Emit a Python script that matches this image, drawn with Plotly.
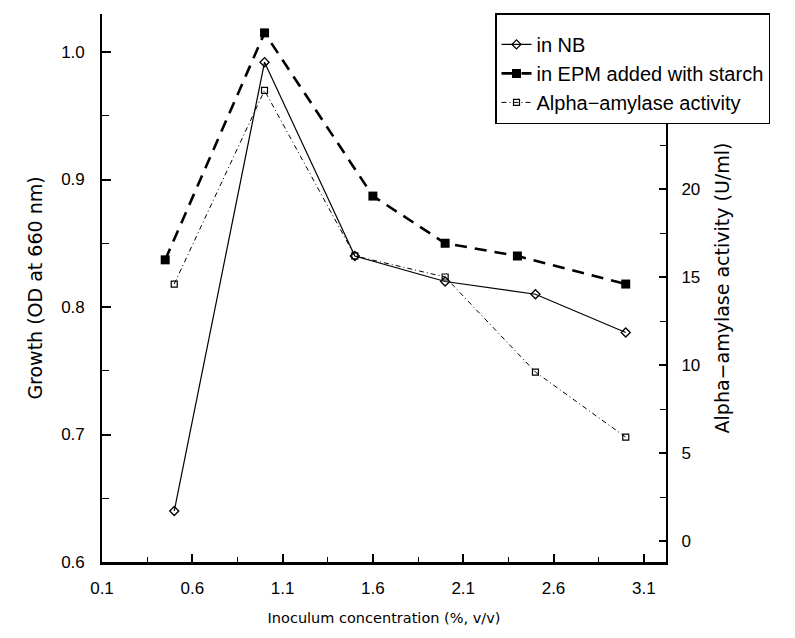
import plotly.graph_objects as go

# Data
conc_nb = [0.5, 1.0, 1.5, 2.0, 2.5, 3.0]
growth_nb = [0.64, 0.992, 0.84, 0.82, 0.81, 0.78]

conc_epm = [0.45, 1.0, 1.6, 2.0, 2.4, 3.0]
growth_epm = [0.837, 1.015, 0.887, 0.85, 0.84, 0.818]

conc_amy = [0.5, 1.0, 1.5, 2.0, 2.5, 3.0]
amylase = [14.6, 25.6, 16.2, 15.0, 9.6, 5.9]

x_ticks = [0.1, 0.6, 1.1, 1.6, 2.1, 2.6, 3.1]
x_ticktext = ["0.1", "0.6", "1.1", "1.6", "2.1", "2.6", "3.1"]
y_ticks = [0.6, 0.7, 0.8, 0.9, 1.0]
y_ticktext = ["0.6", "0.7", "0.8", "0.9", "1.0"]
y2_ticks = [0, 5, 10, 15, 20, 25]
y2_ticktext = ["0", "5", "10", "15", "20", ""]  # "25" is hidden under the legend

FONT = "Liberation Sans, Arial, sans-serif"
TITLE_FONT = "DejaVu Sans, Liberation Sans, sans-serif"

fig = go.Figure()
fig.add_trace(go.Scatter(
    x=conc_nb, y=growth_nb, name="in NB", mode="lines+markers",
    line=dict(color="black", width=1.2),
    marker=dict(symbol="diamond-open", size=7, color="black", line=dict(width=1.3)),
))
fig.add_trace(go.Scatter(
    x=conc_epm, y=growth_epm, name="in EPM added with starch", mode="lines+markers",
    line=dict(color="black", width=2.6, dash="12px,8px"),
    marker=dict(symbol="square", size=9, color="black"),
))
fig.add_trace(go.Scatter(
    x=conc_amy, y=amylase, name="Alpha\u2212amylase activity", mode="lines+markers",
    yaxis="y2",
    line=dict(color="black", width=1, dash="5px,3px,1px,3px"),
    marker=dict(symbol="square-open", size=6, color="black", line=dict(width=1.2)),
))

L, R, T, B = 102, 129, 14, 76
W, H = 795, 638
pw = W - L - R
ph = H - T - B
x_px_per_unit = 180.6
yl_px_per_unit = 1275.0
yr_px_per_unit = 17.6
y2_zero_offset = 21  # px above bottom

fig.update_layout(
    width=W, height=H,
    margin=dict(l=L, r=R, t=T, b=B, autoexpand=False),
    paper_bgcolor="white", plot_bgcolor="white",
    font=dict(family=FONT, color="black", size=16),
    showlegend=True,
    legend=dict(
        x=(495 - L) / pw, y=(H - B - 13) / ph, xanchor="left", yanchor="top",
        bgcolor="white", bordercolor="black", borderwidth=1.5,
        font=dict(family=FONT, size=20, color="black"),
        title=dict(text=" ", font=dict(size=8)),
        itemwidth=30, tracegroupgap=0,
    ),
    xaxis=dict(
        range=[0.1, 0.1 + pw / x_px_per_unit],
        tickmode="array", tickvals=x_ticks, ticktext=x_ticktext,
        ticks="inside", ticklen=8, tickwidth=1.5, tickcolor="black",
        minor=dict(tickmode="linear", tick0=0.1, dtick=0.25, ticks="inside",
                   ticklen=5, tickwidth=1.2, tickcolor="black"),
        showline=True, linecolor="black", linewidth=3,
        showgrid=False, zeroline=False,
        ticklabelstandoff=9,
        tickfont=dict(size=17),
        title=dict(text="Inoculum concentration (%, v/v)",
                   font=dict(family=TITLE_FONT, size=14.5), standoff=16),
    ),
    yaxis=dict(
        range=[0.6, 0.6 + ph / yl_px_per_unit],
        tickmode="array", tickvals=y_ticks, ticktext=y_ticktext,
        ticks="inside", ticklen=9, tickwidth=1.5, tickcolor="black",
        minor=dict(tickmode="linear", tick0=0.6, dtick=0.05, ticks="inside",
                   ticklen=7, tickwidth=1.2, tickcolor="black"),
        showline=True, linecolor="black", linewidth=1.6,
        showgrid=False, zeroline=False,
        ticklabelstandoff=12,
        tickfont=dict(size=17),
        title=dict(text="Growth (OD at 660 nm)",
                   font=dict(family=TITLE_FONT, size=19), standoff=14),
    ),
    yaxis2=dict(
        overlaying="y", side="right", anchor="x",
        range=[-y2_zero_offset / yr_px_per_unit, (ph - y2_zero_offset) / yr_px_per_unit],
        tickmode="array", tickvals=y2_ticks, ticktext=y2_ticktext,
        ticks="inside", ticklen=7, tickwidth=1.5, tickcolor="black",
        minor=dict(tickmode="linear", tick0=0, dtick=2.5, ticks="inside",
                   ticklen=6, tickwidth=1.2, tickcolor="black"),
        showline=True, linecolor="black", linewidth=2,
        showgrid=False, zeroline=False,
        ticklabelstandoff=10,
        tickfont=dict(size=17),
        title=dict(text="Alpha\u2212amylase activity (U/ml)",
                   font=dict(family=TITLE_FONT, size=19), standoff=16),
    ),
)

fig.write_html("out.html")
